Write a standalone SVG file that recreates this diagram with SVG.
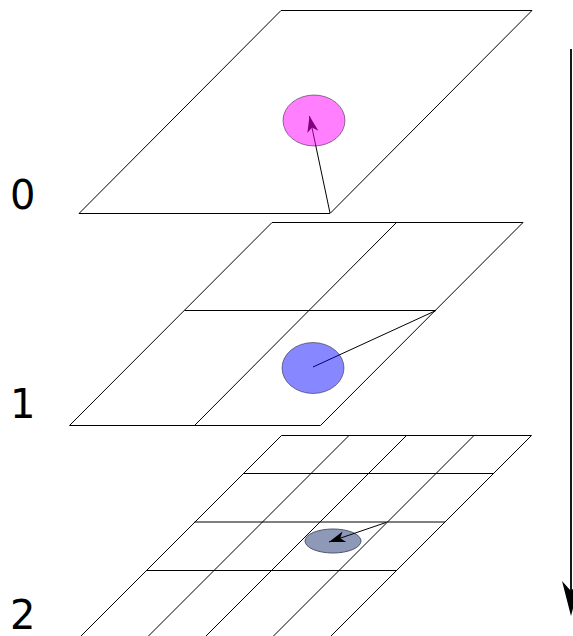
<svg xmlns="http://www.w3.org/2000/svg" width="573" height="636" viewBox="0 0 573 636">
<style>
.pl{fill:none;stroke:#000;stroke-width:1}
.ln{fill:none;stroke:#000;stroke-width:1}
.lbl{font-family:"DejaVu Sans",sans-serif;font-size:40px;fill:#000}
</style>
<defs>
<marker id="ah" markerUnits="userSpaceOnUse" markerWidth="20" markerHeight="20" viewBox="-14 -6 16 12" refX="0" refY="0" orient="auto">
<path d="M0,0 L-13,-4.5 L-9.5,0 L-13,4.5 Z" fill="#000"/>
</marker>
</defs>
<rect width="573" height="636" fill="#fff"/>
<g id="plane0">
<polygon class="pl" points="281,10.5 532,10.5 330,213.5 79,213.5"/>
</g>
<g id="plane1">
<polygon class="pl" points="272,222.5 523,222.5 320.5,425.5 69.5,425.5"/>
<line class="pl" x1="396.5" y1="222.5" x2="194.5" y2="425.5"/>
<line class="pl" x1="184.5" y1="310.5" x2="435.5" y2="310.5"/>
</g>
<g id="plane2">
<line class="pl" x1="281.5" y1="435.5" x2="531.5" y2="435.5"/>
<line class="pl" x1="281.5" y1="435.5" x2="76.5" y2="640.5"/>
<line class="pl" x1="349" y1="435.5" x2="144" y2="640.5"/>
<line class="pl" x1="406.5" y1="435.5" x2="201.5" y2="640.5"/>
<line class="pl" x1="474" y1="435.5" x2="269" y2="640.5"/>
<line class="pl" x1="531.5" y1="435.5" x2="326.5" y2="640.5"/>
<line class="pl" x1="243" y1="473.5" x2="493.5" y2="473.5"/>
<line class="pl" x1="194.5" y1="522" x2="445" y2="522"/>
<line class="pl" x1="146.5" y1="570.5" x2="396.5" y2="570.5"/>
</g>
<g id="connectors">
<line class="ln" x1="330" y1="213" x2="309.5" y2="116" marker-end="url(#ah)"/>
<line class="ln" x1="436" y1="310.5" x2="313" y2="367"/>
<line x1="571" y1="49" x2="571" y2="600" stroke="#000" stroke-width="1.8"/>
<path d="M571,616 L562,581 L571,591 L580,581 Z" fill="#000"/>
</g>
<g id="circle0">
<ellipse cx="314" cy="120.5" rx="31" ry="25.5" fill="#ff00ff" fill-opacity="0.5" stroke="#000" stroke-opacity="0.45" stroke-width="1"/>
</g>
<g id="circle1">
<ellipse cx="313" cy="368" rx="31" ry="25.5" fill="#0000ff" fill-opacity="0.47" stroke="#000" stroke-opacity="0.45" stroke-width="1"/>
</g>
<g id="circle2">
<ellipse cx="333" cy="541" rx="28" ry="12" fill="#8e99b7" stroke="#4d5672" stroke-width="1"/>
</g>
<g id="connectors2">
<line class="ln" x1="386" y1="522.5" x2="329" y2="542" marker-end="url(#ah)"/>
</g>
<g id="labels">
<text class="lbl" x="10" y="209">0</text>
<text class="lbl" x="10" y="418">1</text>
<text class="lbl" x="10" y="629">2</text>
</g>
</svg>
